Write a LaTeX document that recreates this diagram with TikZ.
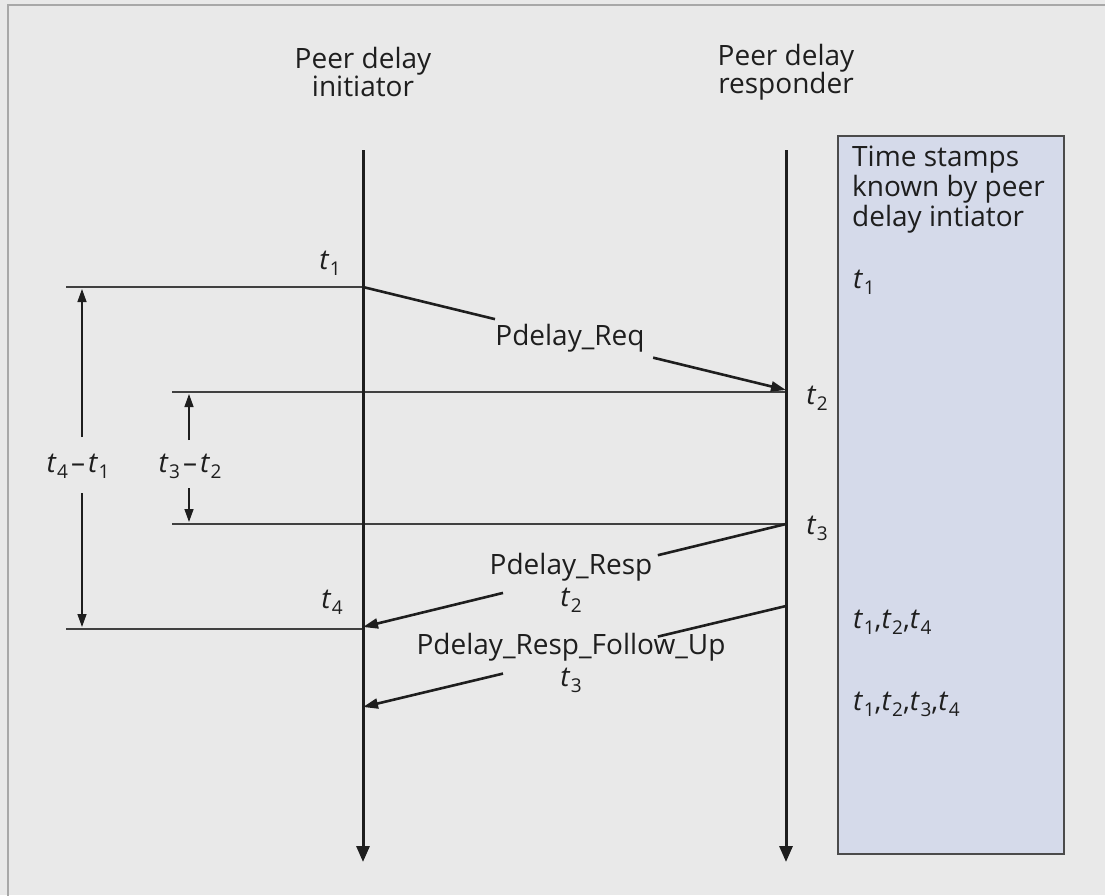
\documentclass[tikz,border=0pt]{standalone}
\usepackage{fontspec}
\setmainfont{Open Sans}
\usetikzlibrary{arrows.meta,calc}
\definecolor{bg}{HTML}{E9E9E9}
\definecolor{boxfill}{HTML}{D5DAEA}
\definecolor{ink}{HTML}{1E1E1E}
\definecolor{frame}{HTML}{A8A8A8}
% time stamp t_i: italic t with an upright subscript
\newcommand\tstamp[1]{\textit{t}\kern0.02em\raisebox{-0.4ex}{\fontsize{19}{20}\selectfont #1}}

\begin{document}
\begin{tikzpicture}[x=1pt,y=-1pt,
  font=\fontsize{28}{30}\selectfont, text=ink,
  lifeline/.style={line width=3pt, draw=ink, -{Triangle[length=16pt,width=13pt]}},
  msg/.style={line width=2.6pt, draw=ink},
  msgtip/.style={msg, -{Triangle[length=15pt,width=10pt]}},
  refline/.style={line width=1.4pt, draw=ink!85},
  dim/.style={line width=1.4pt, draw=ink, -{Triangle[length=13pt,width=9pt]}},
  tslabel/.style={inner sep=0pt},
  msglabel/.style={inner sep=0pt, align=center},
]
% canvas
\fill[bg] (0,0) rectangle (1105,895);
\useasboundingbox (0,0) rectangle (1105,895);
\draw[frame, line width=2pt] (8,900) -- (8,5) -- (1110,5);

% headers
\node[align=center, font=\fontsize{28}{28}\selectfont] (hI) at (363,72) {Peer delay\\initiator};
\node[align=center, font=\fontsize{28}{28}\selectfont] (hR) at (786,72) {Peer delay\\responder};

% time-stamp panel
\node[draw=ink!80, line width=2pt, fill=boxfill, minimum width=226pt, minimum height=718pt,
      anchor=north west, inner sep=0pt] (panel) at (837,135) {};
\node[anchor=north west, align=left, inner sep=0pt] (ptitle) at (852,146)
  {Time stamps\\known by peer\\delay intiator};
\node[anchor=west, tslabel] (k1) at (853,282) {\tstamp{1}};
\node[anchor=west, tslabel] (k2) at (853,622) {\tstamp{1},\tstamp{2},\tstamp{4}};
\node[anchor=west, tslabel] (k3) at (853,704) {\tstamp{1},\tstamp{2},\tstamp{3},\tstamp{4}};

% lifelines
\coordinate (iTop) at (363,150);
\coordinate (iBot) at (363,862);
\coordinate (rTop) at (786,150);
\coordinate (rBot) at (786,862);

% event points
\coordinate (T1) at (363,287);
\coordinate (T2) at (786,390);
\coordinate (T3) at (786,524);
\coordinate (T4) at (363,627);
\coordinate (F3) at (786,606);
\coordinate (F4) at (363,707);

% reference lines
\coordinate (T1L) at (66,287);
\coordinate (T2L) at (172,392);
\coordinate (T3L) at (172,524);
\coordinate (T4L) at (66,629);
\draw[refline] (T1L) -- (T1);
\draw[refline] (T2L) -- (T2 |- T2L);
\draw[refline] (T3L) -- (T3);
\draw[refline] (T4L) -- (T4 |- T4L);

\draw[lifeline] (iTop) -- (iBot);
\draw[lifeline] (rTop) -- (rBot);

% time-stamp labels on the lifelines
\node[tslabel] (l1) at (330,263) {\tstamp{1}};
\node[tslabel] (l2) at (817,398) {\tstamp{2}};
\node[tslabel] (l3) at (817,528) {\tstamp{3}};
\node[tslabel] (l4) at (332,602) {\tstamp{4}};

% messages, each broken where its label sits
\draw[msg] (T1) -- ($(T1)!0.312!(T2)$);
\draw[msgtip] ($(T1)!0.686!(T2)$) -- (T2);
\node[msglabel] (mreq) at (570,338) {Pdelay\_Req};

\draw[msg] (T3) -- ($(T3)!0.303!(T4)$);
\draw[msgtip] ($(T3)!0.669!(T4)$) -- (T4);
\node[msglabel] (mresp) at (571,567) {Pdelay\_Resp};
\node[tslabel] (mresp2) at (571,600) {\tstamp{2}};

\draw[msg] (F3) -- ($(F3)!0.303!(F4)$);
\draw[msgtip] ($(F3)!0.669!(F4)$) -- (F4);
\node[msglabel] (mfup) at (571,647) {Pdelay\_Resp\_Follow\_Up};
\node[tslabel] (mfup2) at (571,680) {\tstamp{3}};

% durations
\coordinate (A41t) at (82,289);
\coordinate (A41b) at (82,627);
\coordinate (A32t) at (189,394);
\coordinate (A32b) at (189,522);
\node[tslabel] (d41) at (78,466) {\tstamp{4}\kern3pt–\kern3pt\tstamp{1}};
\node[tslabel] (d32) at (190,466) {\tstamp{3}\kern3pt–\kern3pt\tstamp{2}};
\draw[dim] (82,437) -- (A41t);
\draw[dim] (82,493) -- (A41b);
\draw[dim] (189,440) -- (A32t);
\draw[dim] (189,488) -- (A32b);
\end{tikzpicture}
\end{document}
